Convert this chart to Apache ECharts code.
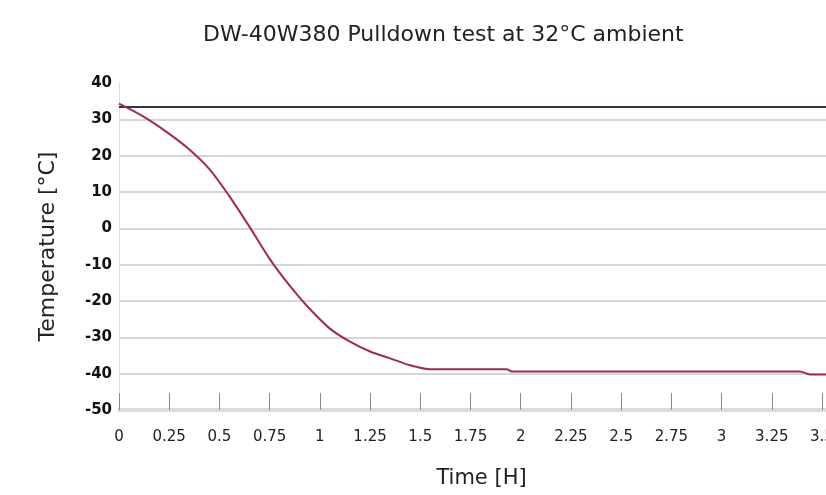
<!DOCTYPE html>
<html>
<head>
<meta charset="utf-8">
<script src="https://cdn.jsdelivr.net/npm/echarts@6/dist/echarts.min.js"></script>
<style>
  html, body { margin: 0; padding: 0; background: #fff; }
  #chart { width: 826px; height: 495px; }
</style>
</head>
<body>
<div id="chart"></div>
<script>
// pulldown curve, time in hours / temperature in °C
const timeH = [0, 0.12, 0.24, 0.35, 0.45, 0.55, 0.65, 0.75, 0.85, 0.935, 1.05, 1.15, 1.25, 1.35, 1.45, 1.55, 1.93, 1.955, 2.29, 3.39, 3.44, 3.52]
const tempC = [34.3, 30.8, 26.4, 21.7, 16.3, 8.8, 0.4, -8.4, -15.8, -21.3, -27.6, -31.2, -33.9, -35.8, -37.7, -38.8, -38.8, -39.4, -39.4, -39.4, -40.2, -40.2]
// ambient reference line
const ambientT = [0, 3.52]
const ambientC = [33.4, 33.4]

const pairs = (xs, ys) => xs.map((x, i) => [x, ys[i]])

let chart = echarts.init(document.getElementById('chart'))
let option = {
  animation: false,
  backgroundColor: '#fff',
  title: {
    text: 'DW-40W380 Pulldown test at 32°C ambient',
    left: 198,
    top: 19,
    textStyle: {
      fontFamily: 'DejaVu Sans',
      fontSize: 22,
      fontWeight: 'normal',
      color: '#222'
    }
  },
  grid: {
    left: 119,
    right: 0,
    top: 83,
    bottom: 85,
    outerBoundsMode: 'none'
  },
  xAxis: {
    type: 'value',
    min: 0,
    max: 3.52,
    interval: 0.25,
    name: 'Time [H]',
    nameLocation: 'middle',
    nameGap: 58,
    nameTextStyle: { fontFamily: 'DejaVu Sans', fontSize: 21, color: '#222', padding: [0, 0, 0, 18] },
    axisLine: { show: true, onZero: false, lineStyle: { color: '#dcdcdc', width: 4 } },
    axisTick: { show: true, inside: true, length: 17, lineStyle: { color: '#8a8a8a', width: 1 } },
    axisLabel: {
      margin: 20,
      fontFamily: 'DejaVu Sans',
      fontSize: 15,
      color: '#222',
      showMaxLabel: false,
      hideOverlap: false
    },
    splitLine: { show: false }
  },
  yAxis: {
    type: 'value',
    min: -50,
    max: 40,
    interval: 10,
    name: 'Temperature [°C]',
    nameLocation: 'middle',
    nameGap: 60,
    nameTextStyle: { fontFamily: 'DejaVu Sans', fontSize: 22, color: '#222' },
    axisLine: { show: true, lineStyle: { color: '#d8d8d8', width: 1, type: 'dotted' } },
    axisTick: { show: false },
    axisLabel: {
      margin: 7,
      fontFamily: 'DejaVu Sans',
      fontSize: 15,
      fontWeight: 'bold',
      color: '#111'
    },
    splitLine: {
      show: true,
      lineStyle: {
        // no line on the top (40) tick
        color: ['#c8c8c8', '#c8c8c8', '#c8c8c8', '#c8c8c8', '#c8c8c8',
                '#c8c8c8', '#c8c8c8', '#c8c8c8', '#c8c8c8', 'transparent'],
        width: 1.5
      }
    }
  },
  series: [
    {
      name: 'ambient',
      type: 'line',
      data: pairs(ambientT, ambientC),
      showSymbol: false,
      lineStyle: { color: '#2b3448', width: 2 }
    },
    {
      name: 'pulldown',
      type: 'line',
      data: pairs(timeH, tempC),
      smooth: 0.3,
      showSymbol: false,
      lineStyle: { color: '#a02a55', width: 2 }
    }
  ]
}
chart.setOption(option)
</script>
</body>
</html>
